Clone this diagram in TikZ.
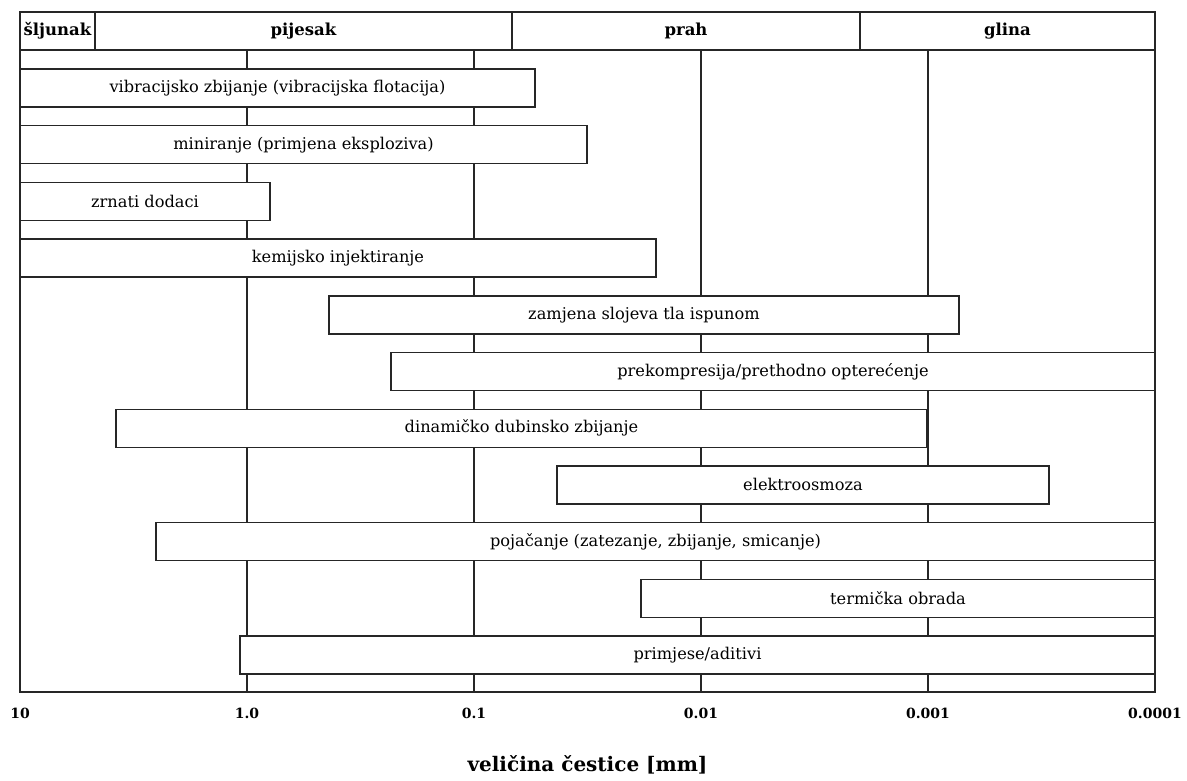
\documentclass[tikz,border=0pt]{standalone}
\usepackage{fontspec}
\setmainfont{DejaVu Serif}
\begin{document}
\begin{tikzpicture}[x=1pt,y=-1pt,
  ln/.style={line width=1.4pt,draw=black!85},
  bar/.style={ln,fill=white,rectangle,inner sep=0pt,minimum height=38pt,
    font=\fontsize{16.2}{18}\selectfont},
  hdr/.style={font=\fontsize{16.5}{18}\selectfont\bfseries},
  tick/.style={font=\fontsize{14}{16}\selectfont\bfseries},
  ttl/.style={font=\fontsize{20}{24}\selectfont\bfseries}]
\useasboundingbox (0,0) rectangle (1187,780);
% header
\draw[ln] (20,12) rectangle (1155,50);
\draw[ln] (95,12) -- (95,50) (512,12) -- (512,50) (860,12) -- (860,50);
\node[hdr] (h1) at (57.5,31) {šljunak};
\node[hdr] (h2) at (303.5,31) {pijesak};
\node[hdr] (h3) at (686,31) {prah};
\node[hdr] (h4) at (1007.5,31) {glina};
% frame and grid
\draw[ln] (20,50) -- (20,692) -- (1155,692) -- (1155,50);
\foreach \x in {247,474,701,928} \draw[ln] (\x,50) -- (\x,692);
% bars
\node[bar,minimum width=515pt] (b1) at (277.5,88) {vibracijsko zbijanje (vibracijska flotacija)};
\node[bar,minimum width=567pt] (b2) at (303.5,144.7) {miniranje (primjena eksploziva)};
\node[bar,minimum width=250pt] (b3) at (145,201.4) {zrnati dodaci};
\node[bar,minimum width=636pt] (b4) at (338,258.1) {kemijsko injektiranje};
\node[bar,minimum width=630pt] (b5) at (644,314.8) {zamjena slojeva tla ispunom};
\node[bar,minimum width=764pt] (b6) at (773,371.5) {prekompresija/prethodno opterećenje};
\node[bar,minimum width=811pt] (b7) at (521.5,428.2) {dinamičko dubinsko zbijanje};
\node[bar,minimum width=492pt] (b8) at (803,484.9) {elektroosmoza};
\node[bar,minimum width=999pt] (b9) at (655.5,541.6) {pojačanje (zatezanje, zbijanje, smicanje)};
\node[bar,minimum width=514pt] (b10) at (898,598.3) {termička obrada};
\node[bar,minimum width=915pt] (b11) at (697.5,655) {primjese/aditivi};
% ticks
\node[tick] (t0) at (20,713) {10};
\node[tick] (t1) at (247,713) {1.0};
\node[tick] (t2) at (474,713) {0.1};
\node[tick] (t3) at (701,713) {0.01};
\node[tick] (t4) at (928,713) {0.001};
\node[tick] (t5) at (1155,713) {0.0001};
\node[ttl] (ttl) at (587.5,765) {veličina čestice [mm]};
\end{tikzpicture}
\end{document}
